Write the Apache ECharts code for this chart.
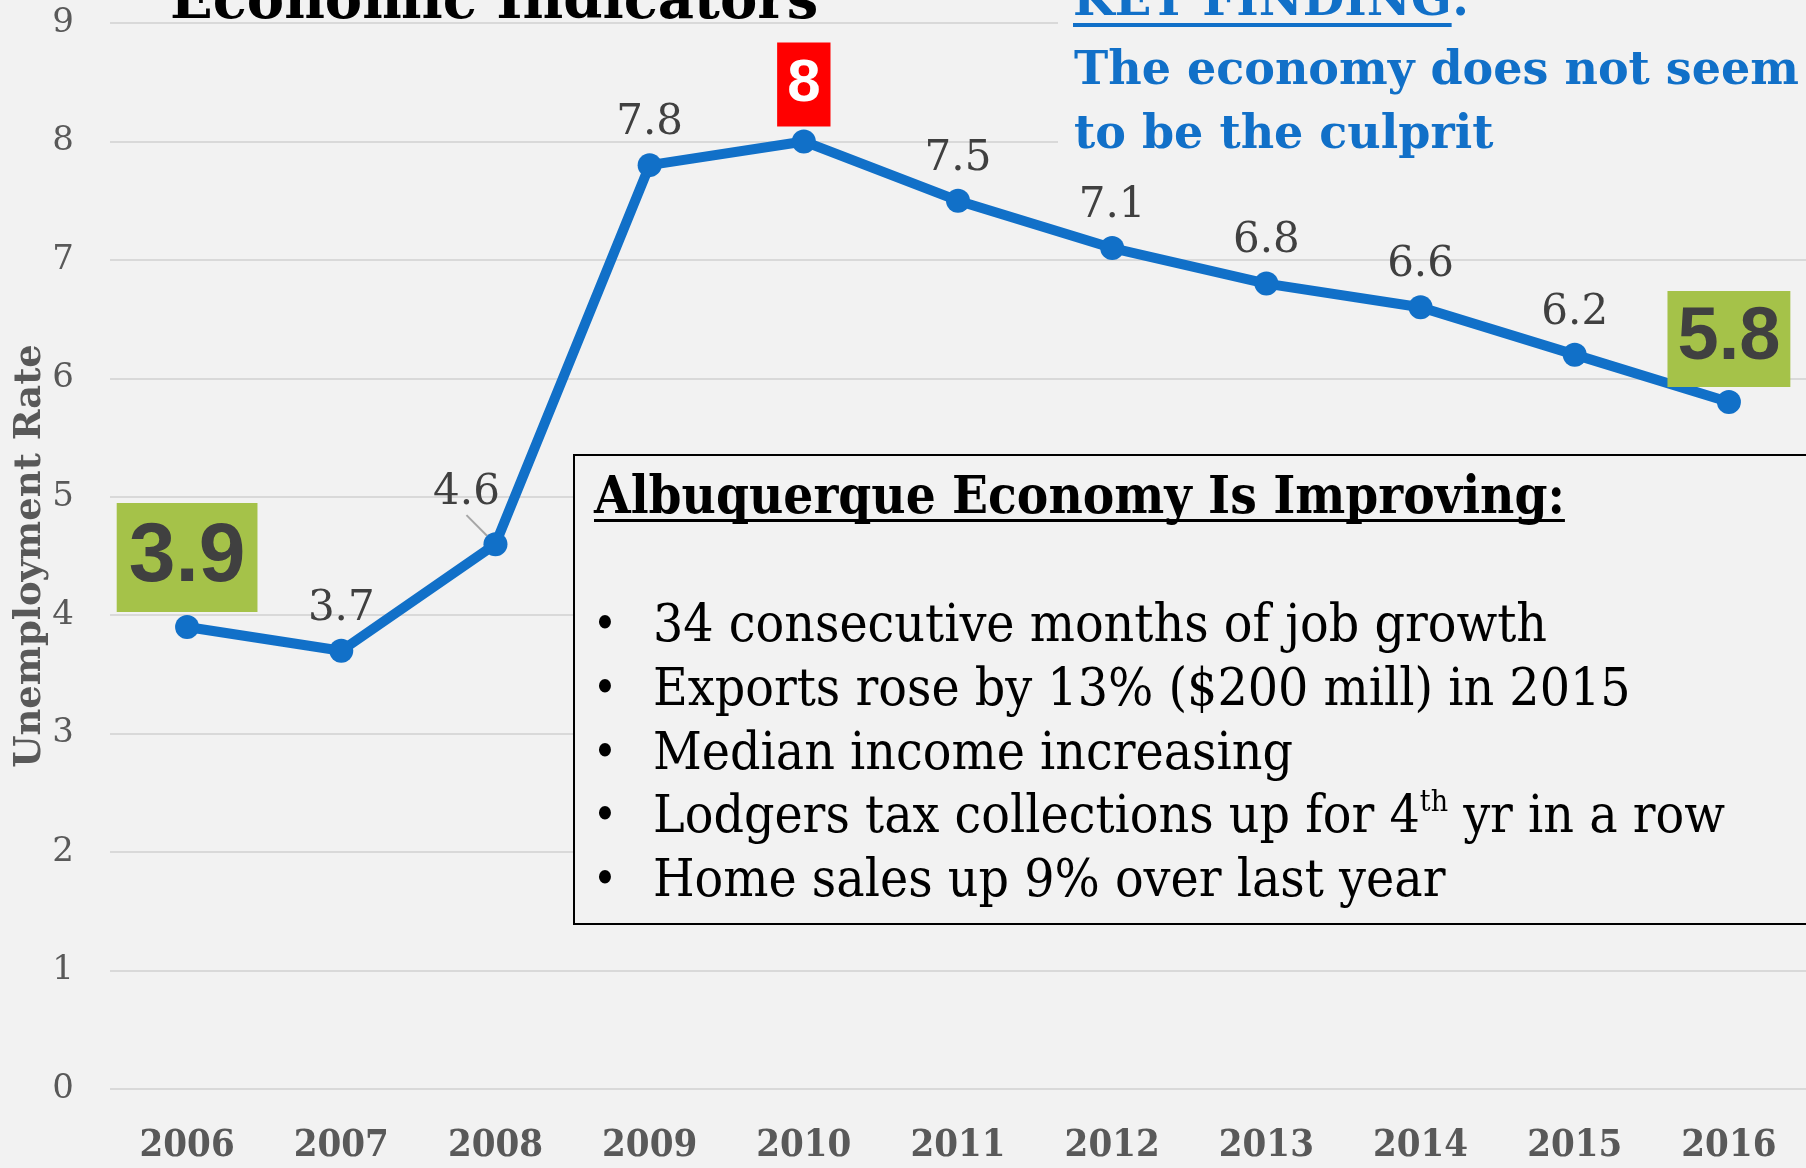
<!DOCTYPE html>
<html>
<head>
<meta charset="utf-8">
<script src="https://cdn.jsdelivr.net/npm/echarts@6/dist/echarts.min.js"></script>
<style>
  html, body { margin: 0; padding: 0; background: #F2F2F2; }
  #chart { width: 1806px; height: 1168px; }
</style>
</head>
<body>
<div id="chart"></div>
<script>
// ---- data ----
const years = ['2006', '2007', '2008', '2009', '2010', '2011', '2012', '2013', '2014', '2015', '2016'];
const unemployment = [3.9, 3.7, 4.6, 7.8, 8, 7.5, 7.1, 6.8, 6.6, 6.2, 5.8];
const yMin = 0;
const yMax = 9;
const yStep = 1;

// ---- text ----
const chartTitle = 'Economic Indicators';
const yAxisName = 'Unemployment Rate';
const findingHead = 'KEY FINDING';
const findingLines = ['The economy does not seem', 'to be the culprit'];
const boxHeading = 'Albuquerque Economy Is Improving:';
const boxBullets = [
  '34 consecutive months of job growth',
  'Exports rose by 13% ($200 mill) in 2015',
  'Median income increasing',
  'Lodgers tax collections up for 4{sup|th} yr in a row',
  'Home sales up 9% over last year'
];

// ---- palette ----
const BG = '#F2F2F2';
const BLUE = '#1170C8';
const GREY_TEXT = '#595959';
const DARK = '#404040';
const GREEN = '#A5C249';
const RED = '#FF0000';

const SERIF = "'DejaVu Serif'";
const SERIF_C = "'DejaVu Serif Condensed', 'DejaVu Serif'";
const SANS = "'Liberation Sans', Arial";

const measureCtx = document.createElement('canvas').getContext('2d');
function textWidth(str, font) {
  measureCtx.font = font;
  return measureCtx.measureText(str).width;
}

// highlighted points: first and last in green, the peak in red
const peakIdx = unemployment.indexOf(Math.max(...unemployment));
const lastIdx = unemployment.length - 1;
const shiftedIdx = 2; // label nudged aside with a leader line

const seriesData = unemployment.map((v, i) => {
  if (i === 0 || i === lastIdx) {
    return {
      value: v,
      label: {
        fontFamily: SANS, fontWeight: 'bold',
        fontSize: i === 0 ? 84 : 74,
        lineHeight: i === 0 ? 89 : 76,
        color: DARK, backgroundColor: GREEN,
        padding: i === 0 ? [10, 12, 10, 12] : [10, 10, 10, 10],
        distance: 3
      }
    };
  }
  if (i === peakIdx) {
    return {
      value: v,
      label: {
        fontFamily: SANS, fontWeight: 'bold', fontSize: 60, lineHeight: 64,
        color: '#FFFFFF', backgroundColor: RED,
        padding: [10, 10, 10, 10], distance: 3
      }
    };
  }
  if (i === shiftedIdx) {
    return { value: v, labelLine: { show: true, lineStyle: { color: '#A6A6A6', width: 2 } } };
  }
  return { value: v };
});

// ---- annotation geometry ----
const boxX = 574, boxY = 455, boxH = 469;
const headFont = `bold 52.5px ${SERIF_C}`;
const headW = textWidth(boxHeading, headFont);
const findHeadFont = `bold 48px ${SERIF}`;
const findHeadW = textWidth(findingHead, findHeadFont);
const findFont = `bold 46px ${SERIF}`;
const bulletYs = [627, 691, 755, 818, 882];

const graphics = [
  // backdrop behind the key finding text
  { type: 'rect', z: 1, shape: { x: 1058, y: 0, width: 760, height: 168 }, style: { fill: BG } },
  { type: 'text', z: 10, x: 1073, y: 3,
    style: { text: findingHead + ':', font: findHeadFont, fill: BLUE, verticalAlign: 'middle' } },
  { type: 'rect', z: 10, shape: { x: 1073, y: 23, width: findHeadW, height: 4 }, style: { fill: BLUE } },
  { type: 'text', z: 10, x: 1074, y: 72,
    style: { text: findingLines[0], font: findFont, fill: BLUE, verticalAlign: 'middle' } },
  { type: 'text', z: 10, x: 1074, y: 136,
    style: { text: findingLines[1], font: findFont, fill: BLUE, verticalAlign: 'middle' } },
  // summary box
  { type: 'rect', z: 5, shape: { x: boxX, y: boxY, width: 1806 - boxX + 20, height: boxH },
    style: { fill: BG, stroke: '#000', lineWidth: 2 } },
  { type: 'text', z: 10, x: 594, y: 499,
    style: { text: boxHeading, font: headFont, fill: '#000', verticalAlign: 'middle' } },
  { type: 'rect', z: 10, shape: { x: 594, y: 519, width: headW, height: 3 }, style: { fill: '#000' } }
];
boxBullets.forEach((line, k) => {
  graphics.push({ type: 'text', z: 10, x: 605, y: bulletYs[k],
    style: { text: '\u2022', font: `46px ${SERIF_C}`, fill: '#000', verticalAlign: 'middle', align: 'center' } });
  graphics.push({ type: 'text', z: 10, x: 653, y: bulletYs[k],
    style: {
      text: line, font: `53px ${SERIF_C}`, fill: '#000', verticalAlign: 'middle',
      rich: {
        sup: { fontFamily: "DejaVu Serif Condensed", fontSize: 30, fill: '#000', verticalAlign: 'top', lineHeight: 60, padding: [0, 0, 24, 0] }
      }
    } });
});

const chart = echarts.init(document.getElementById('chart'), null, { renderer: 'canvas' });
chart.setOption({
  backgroundColor: BG,
  animation: false,
  title: {
    text: chartTitle, left: 165, top: -30,
    textStyle: { fontFamily: SERIF, fontWeight: 'bold', fontSize: 56, color: '#000' }
  },
  grid: { left: 110, right: 0, top: 23, bottom: 79, containLabel: false, outerBoundsMode: 'none' },
  xAxis: {
    type: 'category', data: years, boundaryGap: true,
    axisLine: { show: false }, axisTick: { show: false },
    axisLabel: { margin: 38, fontFamily: SERIF_C, fontWeight: 'bold', fontSize: 38, color: GREY_TEXT }
  },
  yAxis: {
    type: 'value', min: yMin, max: yMax, interval: yStep,
    name: yAxisName, nameLocation: 'middle', nameRotate: 90, nameGap: 61,
    nameMoveOverlap: false,
    nameTextStyle: { fontFamily: SERIF, fontWeight: 'bold', fontSize: 37, color: GREY_TEXT },
    axisLine: { show: false }, axisTick: { show: false },
    axisLabel: { margin: 36, fontFamily: SERIF, fontSize: 34, color: GREY_TEXT },
    splitLine: { lineStyle: { color: '#D9D9D9', width: 2 } }
  },
  series: [{
    type: 'line',
    data: seriesData,
    lineStyle: { color: BLUE, width: 10 },
    itemStyle: { color: BLUE },
    symbol: 'circle', symbolSize: 24,
    label: {
      show: true, position: 'top', distance: 8,
      fontFamily: SERIF, fontSize: 42, lineHeight: 44, color: DARK
    },
    labelLine: { show: false },
    labelLayout: function (p) {
      return p.dataIndex === shiftedIdx ? { dx: -29, dy: -9 } : {};
    }
  }],
  graphic: graphics
});
</script>
</body>
</html>
